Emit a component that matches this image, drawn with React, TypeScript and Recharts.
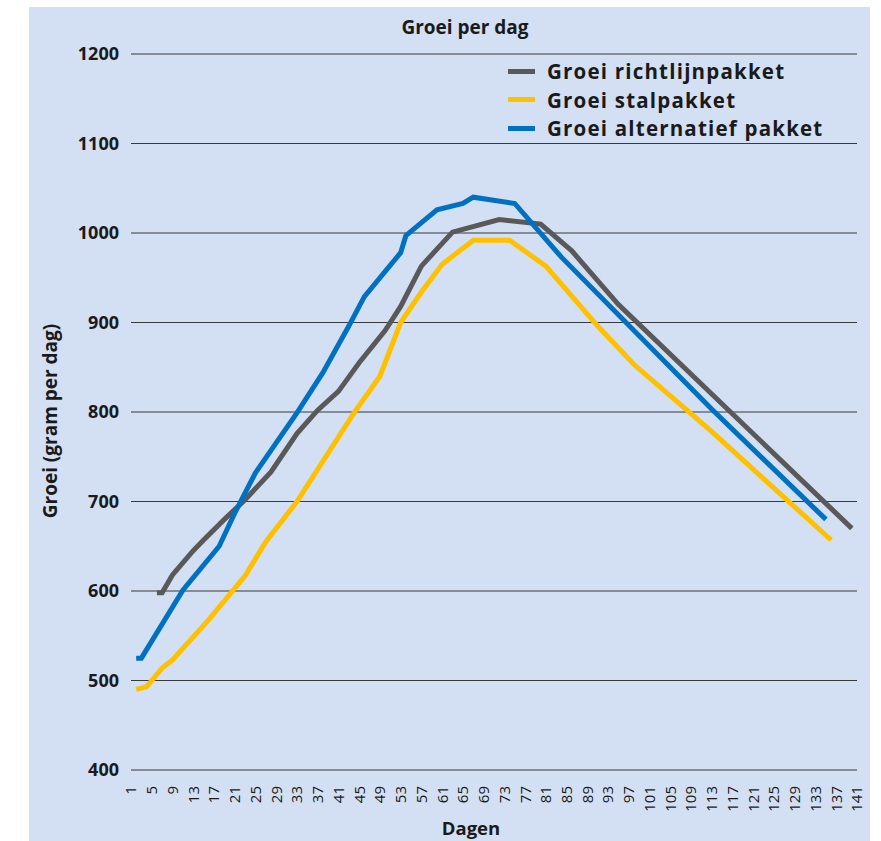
import { CartesianGrid, Line, LineChart, XAxis, YAxis } from "recharts";

// day numbers on the category axis
const days = Array.from({ length: 141 }, (_, i) => i + 1);
const yTicks = [400, 500, 600, 700, 800, 900, 1000, 1100, 1200];

// [day, gram per dag]
const richtlijnPts: [number, number][] = [
  [6, 598], [7, 598], [9, 618], [13, 645], [15, 657], [19, 680], [23, 702],
  [28, 733], [33, 776], [37, 802], [41, 823], [45, 855], [50, 891], [53, 918],
  [57, 963], [63, 1001], [72, 1015], [80, 1010], [86, 980], [95, 920], [140, 670],
];
const stalPts: [number, number][] = [
  [2, 490], [4, 493], [7, 514], [9, 523], [16, 568], [23, 617], [27, 655],
  [33, 700], [44, 799], [49, 840], [53, 900], [57, 934], [61, 965], [67, 992],
  [74, 992], [81, 963], [88, 916], [91, 896], [98, 853], [113, 778], [136, 657],
];
const alternatiefPts: [number, number][] = [
  [2, 525], [3, 525], [11, 601], [18, 650], [21, 687], [25, 732], [33, 799],
  [38, 844], [43, 896], [46, 929], [53, 978], [54, 997], [60, 1026], [65, 1033],
  [67, 1040], [75, 1033], [84, 973], [113, 803], [135, 680],
];

const series = [
  { key: "richtlijn", name: "Groei richtlijnpakket", color: "#595959", pts: richtlijnPts },
  { key: "stal", name: "Groei stalpakket", color: "#ffc000", pts: stalPts },
  { key: "alternatief", name: "Groei alternatief pakket", color: "#0070c0", pts: alternatiefPts },
];

const rows = days.map((d) => {
  const row: Record<string, number | null> = { day: d };
  series.forEach((s) => {
    const hit = s.pts.find((p) => p[0] === d);
    row[s.key] = hit ? hit[1] : null;
  });
  return row;
});

const BG = "#d3dff2";
const TXT = "#1a1a1a";

const XTick = (props: any) => {
  const { x, y, payload } = props;
  return (
    <text
      x={x}
      y={y}
      transform={`rotate(-90 ${x} ${y})`}
      textAnchor="end"
      dy="0.36em"
      fontSize={15}
      fill={TXT}
      fontFamily='"Open Sans", sans-serif'
    >
      {payload.value}
    </text>
  );
};

export default function App() {
  return (
    <div
      style={{
        position: "absolute",
        left: 0,
        top: 0,
        width: 881,
        height: 841,
        overflow: "hidden",
        fontFamily: '"Open Sans", sans-serif',
        color: TXT,
      }}
    >
      <div style={{ position: "absolute", left: 29, top: 7, width: 841, height: 834, background: BG }} />
      <LineChart
        width={881}
        height={841}
        data={rows}
        margin={{ top: 54, right: 24, bottom: 11, left: 71 }}
        style={{ position: "absolute", left: 0, top: 0 }}
      >
        <CartesianGrid vertical={false} stroke="#3a3a3a" strokeWidth={1} />
        <XAxis
          dataKey="day"
          interval={3}
          axisLine={false}
          tickLine={false}
          tickSize={0}
          tickMargin={16}
          height={60}
          tick={(p: any) => <XTick {...p} />}
        />
        <YAxis
          domain={[400, 1200]}
          ticks={yTicks}
          width={60}
          axisLine={false}
          tickLine={false}
          tickSize={0}
          tickMargin={12}
          tick={{ fontSize: 18, fontWeight: 700, fill: TXT, fontFamily: '"Open Sans", sans-serif' }}
        />
        {series.map((s) => (
          <Line
            key={s.key}
            dataKey={s.key}
            name={s.name}
            type="linear"
            stroke={s.color}
            strokeWidth={5}
            dot={false}
            activeDot={false}
            connectNulls
            isAnimationActive={false}
          />
        ))}
      </LineChart>

      <div
        style={{
          position: "absolute", left: 465, top: 27, transform: "translate(-50%, -50%)",
          fontSize: 19, fontWeight: 700, whiteSpace: "nowrap",
        }}
      >
        Groei per dag
      </div>
      <div
        style={{
          position: "absolute", left: 471, top: 827, transform: "translate(-50%, -50%)",
          fontSize: 18.5, fontWeight: 700, whiteSpace: "nowrap",
        }}
      >
        Dagen
      </div>
      <div
        style={{
          position: "absolute", left: 50, top: 421, transform: "translate(-50%, -50%) rotate(-90deg)",
          fontSize: 19, fontWeight: 700, whiteSpace: "nowrap",
        }}
      >
        Groei (gram per dag)
      </div>

      {series.map((s, i) => (
        <div
          key={s.key}
          style={{
            position: "absolute", left: 508, top: 59 + i * 28.5, height: 24,
            display: "flex", alignItems: "center", whiteSpace: "nowrap",
          }}
        >
          <span style={{ display: "inline-block", width: 27, height: 5, background: s.color, marginRight: 12 }} />
          <span style={{ fontSize: 20.5, letterSpacing: 1.2, fontWeight: 700, lineHeight: "24px" }}>{s.name}</span>
        </div>
      ))}
    </div>
  );
}
